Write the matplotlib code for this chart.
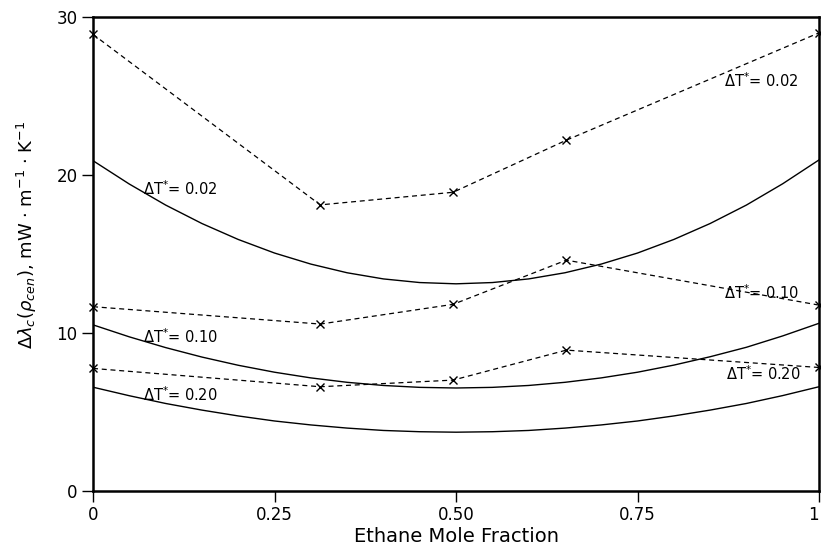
import matplotlib.pyplot as plt
import numpy as np

# measured points (dashed curves with x markers)
x_meas = [0.0, 0.313, 0.496, 0.652, 1.0]
meas_002 = [28.9, 18.1, 18.9, 22.2, 29.0]
meas_010 = [11.65, 10.55, 11.8, 14.6, 11.75]
meas_020 = [7.74, 6.58, 7.0, 8.9, 7.8]

# model curves (solid), every 0.05
x_calc = [0.0, 0.05, 0.1, 0.15, 0.2, 0.25, 0.3, 0.35, 0.4, 0.45, 0.5,
          0.55, 0.6, 0.65, 0.7, 0.75, 0.8, 0.85, 0.9, 0.95, 1.0]
calc_002 = [20.9, 19.42, 18.09, 16.92, 15.91, 15.05, 14.35, 13.8, 13.41, 13.18, 13.1,
            13.18, 13.41, 13.8, 14.35, 15.05, 15.91, 16.92, 18.09, 19.44, 20.95]
calc_010 = [10.5, 9.74, 9.06, 8.46, 7.94, 7.5, 7.14, 6.86, 6.66, 6.54, 6.5,
            6.54, 6.66, 6.86, 7.14, 7.5, 7.95, 8.48, 9.08, 9.8, 10.6]
calc_020 = [6.55, 6.01, 5.52, 5.1, 4.73, 4.41, 4.16, 3.96, 3.81, 3.73, 3.7,
            3.73, 3.81, 3.96, 4.16, 4.41, 4.73, 5.1, 5.52, 6.02, 6.58]

xticks = [0, 0.25, 0.5, 0.75, 1]
xticklabels = ['0', '0.25', '0.50', '0.75', '1']
yticks = [0, 10, 20, 30]

plt.rcParams['font.family'] = ['DejaVu Sans']

fig = plt.figure(figsize=(8.21, 5.5), dpi=100)
ax = fig.add_axes([0.1133, 0.108, 0.8843, 0.861])

for meas in (meas_002, meas_010, meas_020):
    ax.plot(x_meas, meas, color='black', lw=0.9, linestyle=(0, (4, 3)),
            marker='x', markersize=6, markeredgewidth=1.0, clip_on=False)

for calc in (calc_002, calc_010, calc_020):
    ax.plot(x_calc, calc, color='black', lw=1.0)

# labels on curves
lab = dict(fontsize=10.5, color='black', va='center', ha='left')
ax.text(0.069, 19.1, r'$\Delta$T$^{*}$= 0.02', **lab)
ax.text(0.869, 26.0, r'$\Delta$T$^{*}$= 0.02', **lab)
ax.text(0.069, 9.75, r'$\Delta$T$^{*}$= 0.10', **lab)
ax.text(0.869, 12.55, r'$\Delta$T$^{*}$= 0.10', **lab)
ax.text(0.069, 6.05, r'$\Delta$T$^{*}$= 0.20', **lab)
ax.text(0.872, 7.4, r'$\Delta$T$^{*}$= 0.20', **lab)

ax.set_xlim(0, 1)
ax.set_ylim(0, 30)
ax.set_xticks(xticks)
ax.set_xticklabels(xticklabels)
ax.set_yticks(yticks)
ax.tick_params(direction='out', length=8, width=1, labelsize=12, pad=3)
# the last label sits right on the figure edge, as in the original
ax.get_xticklabels()[-1].set_horizontalalignment('right')

for s in ax.spines.values():
    s.set_linewidth(1.8)

ax.set_xlabel('Ethane Mole Fraction', fontsize=14, labelpad=2)
ax.set_ylabel(r'$\Delta\lambda_c(\rho_{cen})$, mW $\cdot$ m$^{-1}$ $\cdot$ K$^{-1}$',
              fontsize=13)
ax.yaxis.set_label_coords(-0.075, 0.54)

fig.savefig('out.png', dpi=100)
